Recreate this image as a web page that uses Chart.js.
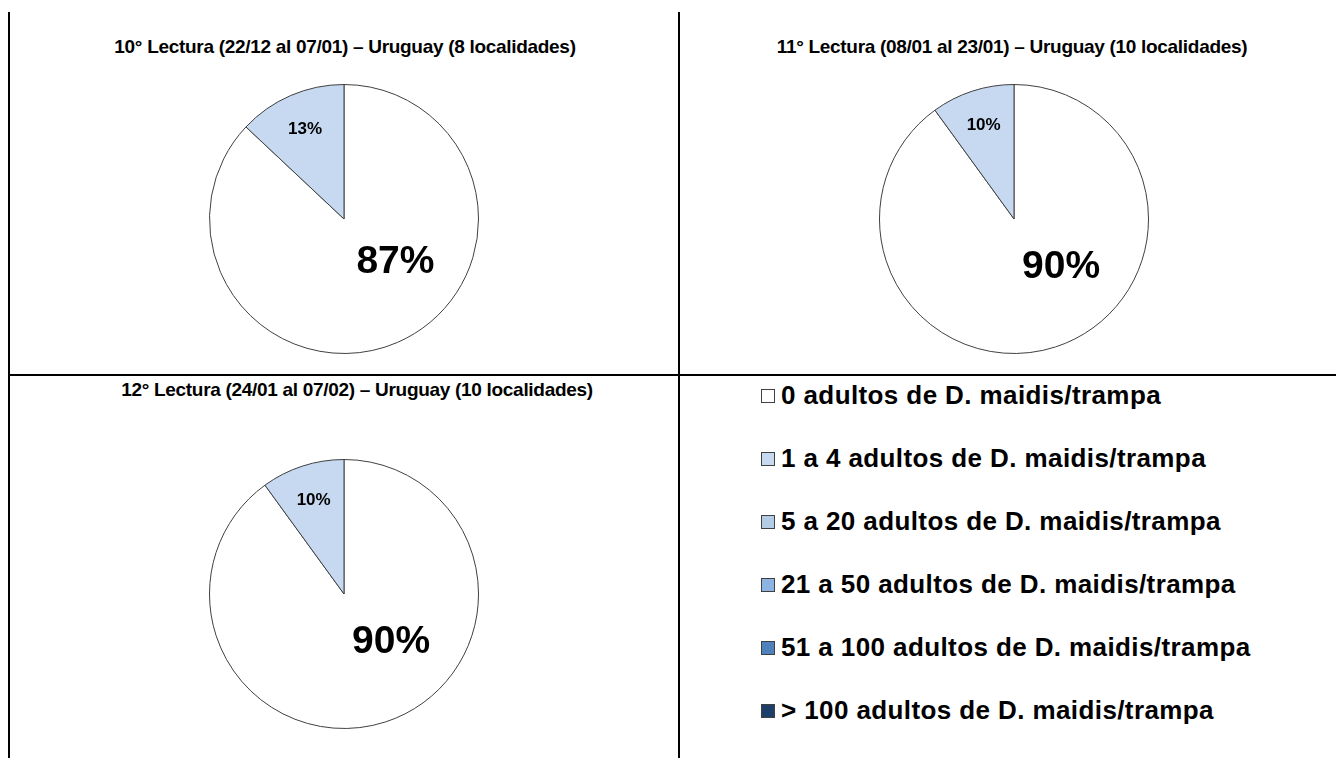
<!DOCTYPE html>
<html><head><meta charset="utf-8">
<script src="https://cdn.jsdelivr.net/npm/chart.js@4.4.0/dist/chart.umd.min.js"></script>
<style>
html,body{margin:0;padding:0;background:#fff;}
body{width:1336px;height:758px;overflow:hidden;position:relative;font-family:"Liberation Sans",Arial,sans-serif;}
.line{position:absolute;background:#000;}
.title{position:absolute;font-weight:bold;font-size:19px;text-align:center;width:640px;color:#000;line-height:20px;letter-spacing:-0.3px;}
.pie{position:absolute;width:270px;height:270px;}
#legend{position:absolute;left:761px;top:364px;}
.item{display:flex;align-items:center;height:63px;font-weight:bold;font-size:26px;color:#000;letter-spacing:0.4px;}
.sw{width:12px;height:12px;border:1px solid #404040;margin-right:6px;flex:none;}
</style></head><body>
<div class="line" style="left:8px;top:12px;width:2px;height:746px"></div>
<div class="line" style="left:678px;top:12px;width:2px;height:746px"></div>
<div class="line" style="left:9px;top:374px;width:1327px;height:2px"></div>
<div class="title" id="t0" style="left:25px;top:37px"></div>
<div class="title" id="t1" style="left:692px;top:37px"></div>
<div class="title" id="t2" style="left:37px;top:380px"></div>
<div class="pie" style="left:209px;top:84px"><canvas id="c0"></canvas></div>
<div class="pie" style="left:879px;top:84px"><canvas id="c1"></canvas></div>
<div class="pie" style="left:209px;top:459px"><canvas id="c2"></canvas></div>
<div id="legend"></div>
<script>
const categories = [
  "0 adultos de D. maidis/trampa",
  "1 a 4 adultos de D. maidis/trampa",
  "5 a 20 adultos de D. maidis/trampa",
  "21 a 50 adultos de D. maidis/trampa",
  "51 a 100 adultos de D. maidis/trampa",
  "> 100 adultos de D. maidis/trampa"
];
const titles = [
  "10° Lectura (22/12 al 07/01) – Uruguay (8 localidades)",
  "11° Lectura (08/01 al 23/01) – Uruguay (10 localidades)",
  "12° Lectura (24/01 al 07/02) – Uruguay (10 localidades)"
];
const lectura10 = [87, 13, 0, 0, 0, 0];
const lectura11 = [90, 10, 0, 0, 0, 0];
const lectura12 = [90, 10, 0, 0, 0, 0];
const seriesList = [lectura10, lectura11, lectura12];
const colors = ["#ffffff", "#c6d9f1", "#b4cbe6", "#8db3e2", "#4f81bd", "#1f3f6b"];

const labelPlugin = {
  id: 'pctLabels',
  afterDatasetsDraw(chart) {
    const ctx = chart.ctx;
    const ds = chart.data.datasets[0];
    const meta = chart.getDatasetMeta(0);
    meta.data.forEach((arc, i) => {
      const v = ds.data[i];
      if (!v) return;
      const p = arc.getProps(['x','y','startAngle','endAngle','outerRadius'], true);
      const mid = (p.startAngle + p.endAngle) / 2;
      let ang, rr, size;
      if (v < 50) { ang = mid; rr = 0.73 * p.outerRadius; size = 17; }
      else { ang = mid - 26.5 * Math.PI / 180; rr = 0.5 * p.outerRadius; size = 39; }
      ctx.save();
      ctx.font = 'bold ' + size + 'px "Liberation Sans", Arial, sans-serif';
      ctx.fillStyle = '#000';
      ctx.textAlign = 'center';
      ctx.textBaseline = 'middle';
      ctx.fillText(v + '%', p.x + Math.cos(ang) * rr, p.y + Math.sin(ang) * rr);
      ctx.restore();
    });
  }
};

seriesList.forEach((vals, k) => {
  document.getElementById('t' + k).textContent = titles[k];
  new Chart(document.getElementById('c' + k), {
    type: 'pie',
    data: { labels: categories, datasets: [{ data: vals, backgroundColor: colors, borderColor: '#404040', borderWidth: 1 }] },
    options: {
      responsive: true, maintainAspectRatio: false, animation: false, events: [],
      layout: { padding: 0 },
      plugins: { legend: { display: false }, tooltip: { enabled: false }, title: { display: false } }
    },
    plugins: [labelPlugin]
  });
});

const leg = document.getElementById('legend');
categories.forEach((c, i) => {
  const d = document.createElement('div'); d.className = 'item';
  const s = document.createElement('span'); s.className = 'sw'; s.style.background = colors[i];
  const t = document.createElement('span'); t.textContent = c;
  d.appendChild(s); d.appendChild(t); leg.appendChild(d);
});
</script>
</body></html>
